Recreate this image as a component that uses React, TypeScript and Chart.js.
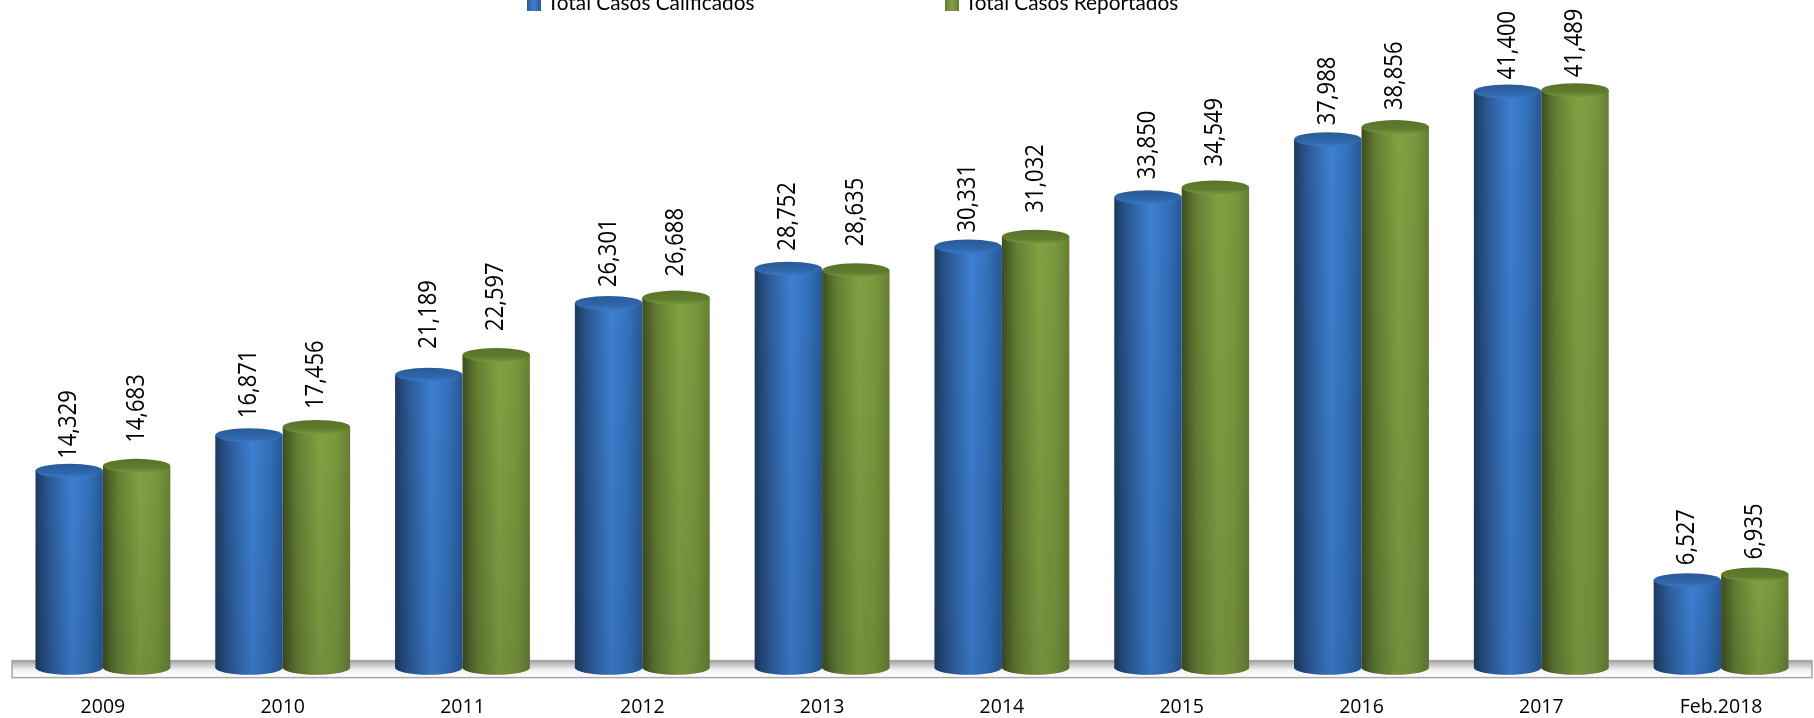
import React, { useEffect, useRef } from "react";
import { Chart, registerables } from "chart.js";

Chart.register(...registerables);

const categories = ["2009", "2010", "2011", "2012", "2013", "2014", "2015", "2016", "2017", "Feb.2018"];
const calificados = [14329, 16871, 21189, 26301, 28752, 30331, 33850, 37988, 41400, 6527];
const reportados = [14683, 17456, 22597, 26688, 28635, 31032, 34549, 38856, 41489, 6935];
const seriesNames = ["Total Casos Calificados", "Total Casos Reportados"];
// Gap in px between each value label and the top of its cylinder.
const calificadosGaps = [5, 10, 19, 9, 11, 7, 11, 7, 5, 8];
const reportadosGaps = [16, 11, 17, 14, 17, 17, 14, 10, 6, 8];
const labelGaps = [calificadosGaps, reportadosGaps];

const FONT = "Lato, sans-serif";
const NUM_FONT = "'Open Sans', sans-serif";
const RY = 7;
const BLUE = ["#1d3a60", "#2c5c98", "#3e80d2", "#3370b8", "#265794"];
const GREEN = ["#3d4d21", "#647f33", "#82a142", "#7a973d", "#657f33"];
const TOPS = [["#2a5a98", "#2f66ab", "#3b79c7"], ["#587329", "#5f7d2e", "#7a9a3e"]];
const LEGEND_X = [527, 945];

function bodyFill(colors: string[], side: number) {
  return (ctx: any) => {
    const chart = ctx.chart;
    if (!chart.chartArea || ctx.dataIndex === undefined) return colors[2];
    const step = chart.chartArea.width / categories.length;
    const w = (step * 0.75) / 2;
    const cx = chart.scales.x.getPixelForTick(ctx.dataIndex);
    const x0 = cx + (side === 0 ? -w : 0);
    const g = chart.ctx.createLinearGradient(x0, 0, x0 + w, 0);
    [0, 0.22, 0.55, 0.8, 1].forEach((s, i) => g.addColorStop(s, colors[i]));
    return g;
  };
}

const cylinderPlugin = {
  id: "cylinder",
  beforeDatasetsDraw(chart: any) {
    const { ctx, chartArea: a } = chart;
    const y0 = chart.scales.y.getPixelForValue(0);
    const top = y0 - 11;
    const bottom = y0 + 6;
    const left = a.left - 1;
    const right = a.right + 1;
    ctx.save();
    const g = ctx.createLinearGradient(0, top, 0, bottom);
    g.addColorStop(0, "#a2a2a2");
    g.addColorStop(0.55, "#f2f2f2");
    g.addColorStop(1, "#ffffff");
    ctx.fillStyle = g;
    ctx.fillRect(left, top, right - left, bottom - top);
    ctx.strokeStyle = "#a6a6a6";
    ctx.lineWidth = 1.5;
    ctx.strokeRect(left, top, right - left, bottom - top);
    chart.data.datasets.forEach((_: any, di: number) => {
      chart.getDatasetMeta(di).data.forEach((el: any) => {
        ctx.fillStyle = el.options.backgroundColor;
        ctx.beginPath();
        ctx.ellipse(el.x, el.base, el.width / 2, RY, 0, 0, Math.PI * 2);
        ctx.fill();
      });
    });
    ctx.restore();
  },
  afterDatasetsDraw(chart: any) {
    const { ctx } = chart;
    ctx.save();
    chart.data.datasets.forEach((ds: any, di: number) => {
      chart.getDatasetMeta(di).data.forEach((el: any, i: number) => {
        const rx = el.width / 2;

        const shade = ctx.createLinearGradient(0, el.y, 0, el.base + RY);
        shade.addColorStop(0, "rgba(0,0,20,0)");
        shade.addColorStop(1, "rgba(0,0,20,0.1)");
        ctx.fillStyle = shade;
        ctx.beginPath();
        ctx.moveTo(el.x - rx, el.y);
        ctx.lineTo(el.x + rx, el.y);
        ctx.lineTo(el.x + rx, el.base);
        ctx.ellipse(el.x, el.base, rx, RY, 0, 0, Math.PI);
        ctx.closePath();
        ctx.fill();

        const top = ctx.createLinearGradient(0, el.y - RY, 0, el.y + RY);
        top.addColorStop(0, TOPS[di][0]);
        top.addColorStop(0.65, TOPS[di][1]);
        top.addColorStop(1, TOPS[di][2]);
        ctx.fillStyle = top;
        ctx.beginPath();
        ctx.ellipse(el.x, el.y, rx, RY, 0, 0, Math.PI * 2);
        ctx.fill();

        ctx.save();
        ctx.translate(el.x, el.y - RY - labelGaps[di][i]);
        ctx.rotate(-Math.PI / 2);
        ctx.scale(1, 1.13);
        ctx.font = `22px ${NUM_FONT}`;
        ctx.fillStyle = "#000";
        ctx.textAlign = "left";
        ctx.textBaseline = "middle";
        ctx.fillText(ds.data[i].toLocaleString("en-US"), 0, 0);
        ctx.restore();
      });
    });

    chart.data.datasets.forEach((ds: any, di: number) => {
      const x = LEGEND_X[di];
      const g = ctx.createLinearGradient(x, 0, x + 14, 0);
      const colors = di === 0 ? BLUE : GREEN;
      g.addColorStop(0, colors[1]);
      g.addColorStop(0.5, colors[2]);
      g.addColorStop(1, colors[4]);
      ctx.fillStyle = g;
      ctx.fillRect(x, 0, 14, 11);
      ctx.font = `20.8px ${FONT}`;
      ctx.fillStyle = "#000";
      ctx.textAlign = "left";
      ctx.textBaseline = "middle";
      ctx.fillText(ds.label, x + 20, 3);
    });
    ctx.restore();
  },
};

export default function App() {
  const ref = useRef<HTMLCanvasElement>(null);
  useEffect(() => {
    if (!ref.current) return;
    const chart = new Chart(ref.current, {
      type: "bar",
      data: {
        labels: categories,
        datasets: [
          { label: seriesNames[0], data: calificados, backgroundColor: bodyFill(BLUE, 0), base: 280 },
          { label: seriesNames[1], data: reportados, backgroundColor: bodyFill(GREEN, 1), base: 280 },
        ] as any,
      },
      options: {
        animation: false,
        responsive: false,
        layout: { padding: { left: 13, right: 3, top: 41, bottom: -17 } },
        datasets: { bar: { barPercentage: 1, categoryPercentage: 0.75, borderWidth: 0 } },
        scales: {
          x: {
            grid: { display: false },
            border: { display: false },
            ticks: { color: "#000", font: { family: NUM_FONT, size: 19.5 }, padding: 16, maxRotation: 0, autoSkip: false },
          },
          y: { display: false, min: 0, max: 45000 },
        },
        plugins: {
          tooltip: { enabled: false },
          legend: { display: false },
        } as any,
      },
      plugins: [cylinderPlugin],
    } as any);
    return () => chart.destroy();
  }, []);
  return (
    <div style={{ position: "fixed", left: 0, top: 0, width: 1814, height: 718, background: "#fff", overflow: "hidden" }}>
      <canvas ref={ref} width={1814} height={718} style={{ display: "block" }} />
    </div>
  );
}
